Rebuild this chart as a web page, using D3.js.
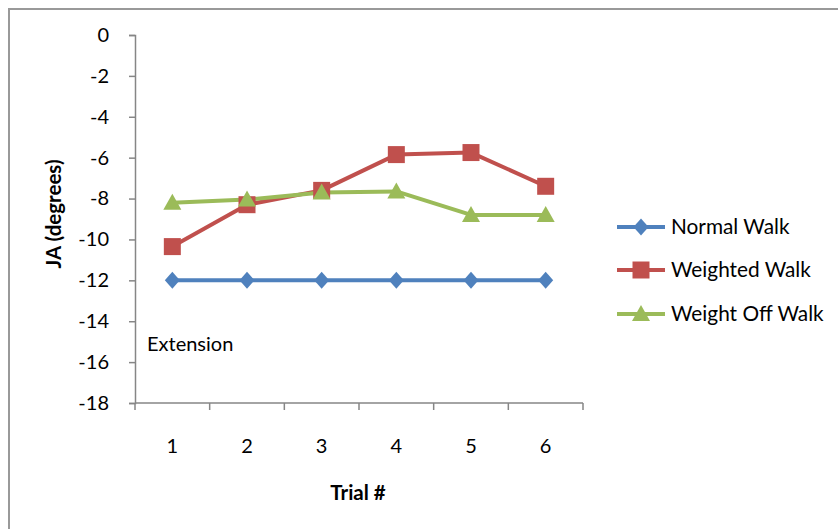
<!DOCTYPE html>
<html><head><meta charset="utf-8">
<script src="https://cdn.jsdelivr.net/npm/d3@7"></script>
<style>body{margin:0;background:#fff}svg{display:block}</style>
</head><body>
<script>
const trials = ["1","2","3","4","5","6"];
const normalWalk = [-12,-12,-12,-12,-12,-12];
const weightedWalk = [-10.35,-8.3,-7.6,-5.85,-5.75,-7.4];
const weightOffWalk = [-8.2,-8.05,-7.7,-7.65,-8.8,-8.8];
const seriesNames = ["Normal Walk","Weighted Walk","Weight Off Walk"];
const seriesColors = ["#4F81BD","#C0504D","#9BBB59"];
const yTicks = [0,-2,-4,-6,-8,-10,-12,-14,-16,-18];

const W=838,H=529;
const font="Lato, 'Open Sans', sans-serif";
const FS=20;
const svg=d3.select("body").append("svg").attr("width",W).attr("height",H);
svg.append("rect").attr("x",9).attr("y",9).attr("width",W+10).attr("height",H+10)
  .attr("fill","#fff").attr("stroke","#999").attr("stroke-width",2);

const x=d3.scaleBand().domain(trials).range([135,583]);
const y=d3.scaleLinear().domain([-18,0]).range([403,35]);

const gx=svg.append("g").attr("transform","translate(0,403)");
gx.append("line").attr("x1",135).attr("x2",583).attr("stroke","#868686").attr("stroke-width",1.5);
const bounds=[135,...trials.map(t=>x(t)+x.bandwidth())];
gx.selectAll(".t").data(bounds).enter().append("line").attr("x1",d=>d).attr("x2",d=>d)
  .attr("y1",0).attr("y2",7).attr("stroke","#868686").attr("stroke-width",1.5);
gx.selectAll(".l").data(trials).enter().append("text").attr("x",d=>x(d)+x.bandwidth()/2)
  .attr("y",50).attr("text-anchor","middle").attr("font-family",font).attr("font-size",FS).attr("fill","#000").text(d=>d);

const gy=svg.append("g").attr("transform","translate(135,0)");
const yAxis=d3.axisLeft(y).tickValues(yTicks).tickSize(6).tickPadding(20).tickFormat(d3.format("d"));
gy.call(yAxis);
gy.select(".domain").attr("stroke","#868686").attr("stroke-width",1.5);
gy.selectAll(".tick line").attr("stroke","#868686").attr("stroke-width",1.5);
gy.selectAll(".tick text").attr("font-family",font).attr("font-size",FS).attr("fill","#000")
  .text(d=>d<0?"-"+Math.abs(d):d);

const data=[normalWalk,weightedWalk,weightOffWalk];
const cx=i=>x(trials[i])+x.bandwidth()/2;
const line=d3.line().x((d,i)=>cx(i)).y(d=>y(d));
const markerPaths=[
  "M0,-8.5L7.5,0L0,8.5L-7.5,0Z",
  "M-8.5,-8.5H8.5V8.5H-8.5Z",
  "M0,-9L9,7L-9,7Z"
];

data.forEach((s,k)=>{
  svg.append("path").datum(s).attr("d",line).attr("fill","none").attr("stroke",seriesColors[k]).attr("stroke-width",4).attr("stroke-linejoin","round");
});
data.forEach((s,k)=>{
  svg.selectAll(".m"+k).data(s).enter().append("path")
    .attr("transform",(d,i)=>`translate(${cx(i)},${y(d)})`)
    .attr("d",markerPaths[k])
    .attr("fill",seriesColors[k]);
});

// legend
const lg=svg.append("g");
const rows=[227,270,314];
seriesNames.forEach((n,k)=>{
  lg.append("line").attr("x1",617).attr("x2",665).attr("y1",rows[k]).attr("y2",rows[k]).attr("stroke",seriesColors[k]).attr("stroke-width",4);
  lg.append("path").attr("transform",`translate(641,${rows[k]})`).attr("d",markerPaths[k]).attr("fill",seriesColors[k]);
  lg.append("text").attr("x",671).attr("y",rows[k]+7).attr("font-family",font).attr("font-size",20.8).attr("fill","#000").text(n);
});

svg.append("text").attr("x",147).attr("y",351).attr("font-family",font).attr("font-size",FS).attr("fill","#000").text("Extension");
svg.append("text").attr("x",358).attr("y",500).attr("text-anchor","middle").attr("font-family",font).attr("font-weight","bold").attr("font-size",20.5).attr("fill","#000").text("Trial #");
svg.append("text").attr("transform","translate(61,214) rotate(-90)").attr("text-anchor","middle").attr("font-family",font).attr("font-weight","bold").attr("font-size",20.5).attr("fill","#000").text("JA (degrees)");
</script>
</body></html>
